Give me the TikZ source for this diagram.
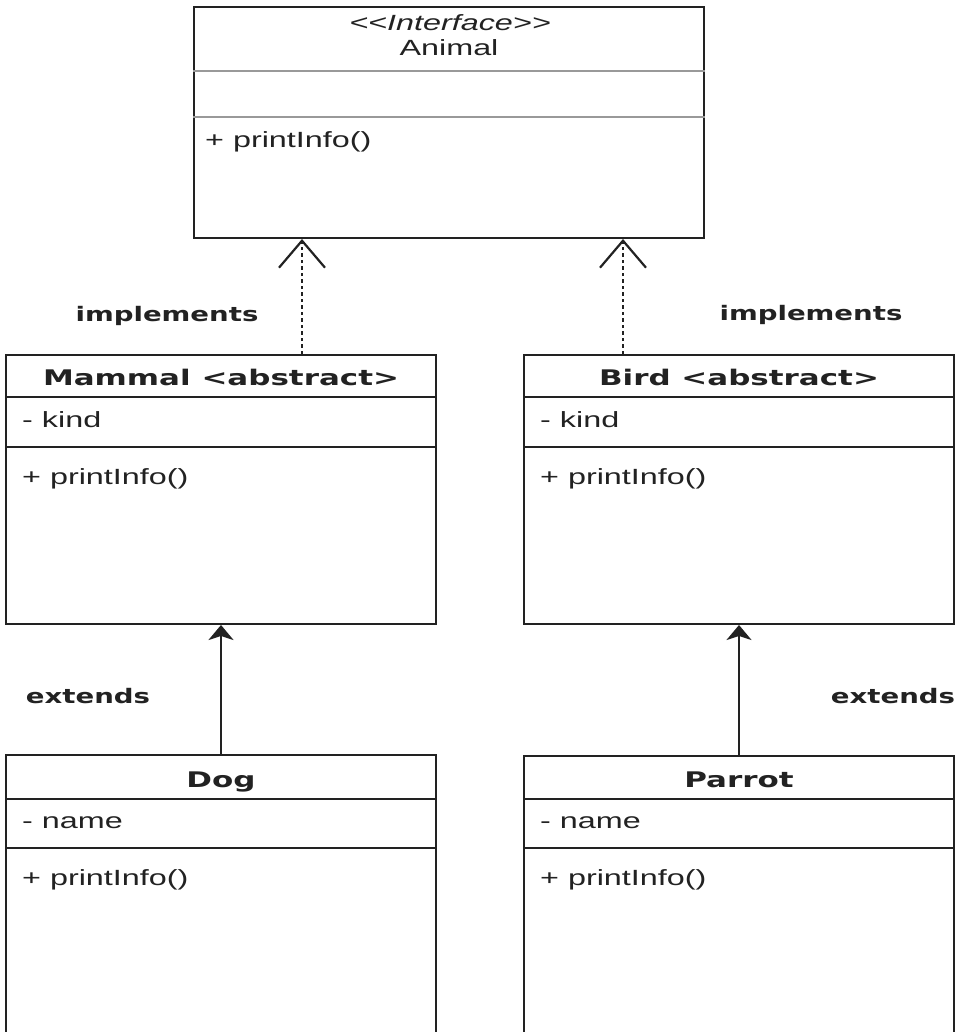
\documentclass[tikz,border=0pt]{standalone}
\usepackage{fontspec}
\usetikzlibrary{arrows.meta}
\newfontfamily\titlef[FakeStretch=1.44]{DejaVu Sans}
\newfontfamily\bodyf[FakeStretch=1.47]{Liberation Sans}
\newfontfamily\labelf[FakeStretch=1.38]{DejaVu Sans}
\definecolor{ink}{HTML}{222222}
\definecolor{sepgray}{HTML}{999999}
\tikzset{
  umlbox/.style={draw=ink, line width=2pt, rectangle, inner sep=0pt, fill=white},
  titletext/.style={anchor=base, inner sep=0pt, text=ink, font=\titlef\bfseries\fontsize{21.5}{24}\selectfont},
  bodytext/.style={anchor=base west, inner sep=0pt, text=ink, font=\bodyf\fontsize{22}{24}\selectfont},
  headtext/.style={anchor=base, inner sep=0pt, text=ink, font=\bodyf\fontsize{22}{24}\selectfont},
  reltext/.style={anchor=base, inner sep=0pt, text=ink, font=\labelf\bfseries\fontsize{20}{22}\selectfont},
  sepline/.style={draw=ink, line width=1.8pt},
  lightsep/.style={draw=sepgray, line width=1.5pt},
  realize/.style={draw=ink, line width=2.4pt, dash pattern=on 3.5pt off 3pt,
    -{Straight Barb[length=27pt,width=46pt,line width=2.2pt]}},
  inherit/.style={draw=ink, line width=2.2pt, -{Stealth[length=15pt,width=25pt,inset=4pt]}}
}
\begin{document}
\begin{tikzpicture}[x=1pt,y=-1pt]
\useasboundingbox (0,0) rectangle (958,1032);
\clip (0,0) rectangle (958,1032);

% Boxes
\node[umlbox, minimum width=510pt, minimum height=231pt] (animal) at (449,122.5) {};
\node[umlbox, minimum width=430pt, minimum height=269pt] (mammal) at (221,489.5) {};
\node[umlbox, minimum width=430pt, minimum height=269pt] (bird) at (739,489.5) {};
\node[umlbox, minimum width=430pt, minimum height=300pt] (dog) at (221,905) {};
\node[umlbox, minimum width=430pt, minimum height=300pt] (parrot) at (739,906) {};

% separators
\coordinate (a1) at (0,71);
\coordinate (a2) at (0,117);
\draw[lightsep] (animal.west |- a1) -- (animal.east |- a1);
\draw[lightsep] (animal.west |- a2) -- (animal.east |- a2);
\coordinate (m1) at (0,397);
\coordinate (m2) at (0,447);
\draw[sepline] (mammal.west |- m1) -- (mammal.east |- m1);
\draw[sepline] (mammal.west |- m2) -- (mammal.east |- m2);
\draw[sepline] (bird.west |- m1) -- (bird.east |- m1);
\draw[sepline] (bird.west |- m2) -- (bird.east |- m2);
\coordinate (d1) at (0,799);
\coordinate (d2) at (0,848);
\draw[sepline] (dog.west |- d1) -- (dog.east |- d1);
\draw[sepline] (dog.west |- d2) -- (dog.east |- d2);
\draw[sepline] (parrot.west |- d1) -- (parrot.east |- d1);
\draw[sepline] (parrot.west |- d2) -- (parrot.east |- d2);

% Animal texts
\node[headtext] (aster) at (450,31) {\itshape <<Interface>>};
\node[headtext] (aname) at (449,56) {Animal};
\node[bodytext] (aop) at (205,148) {+ printInfo()};

% Mammal
\node[titletext] (mname) at (221,385) {Mammal <abstract>};
\node[bodytext] (mattr) at (22,427) {- kind};
\node[bodytext] (mop) at (22,484) {+ printInfo()};

% Bird
\node[titletext] (bname) at (739,385) {Bird <abstract>};
\node[bodytext] (battr) at (540,427) {- kind};
\node[bodytext] (bop) at (540,484) {+ printInfo()};

% Dog
\node[titletext] (dname) at (221,787) {Dog};
\node[bodytext] (dattr) at (22,828) {- name};
\node[bodytext] (dop) at (22,885) {+ printInfo()};

% Parrot
\node[titletext] (pname) at (739,787) {Parrot};
\node[bodytext] (pattr) at (540,828) {- name};
\node[bodytext] (pop) at (540,885) {+ printInfo()};

% connectors
\coordinate (xl) at (302,0);
\coordinate (xr) at (623,0);
\draw[realize] (mammal.north -| xl) -- (animal.south -| xl);
\draw[realize] (bird.north -| xr) -- (animal.south -| xr);
\draw[inherit] (dog.north) -- (mammal.south);
\draw[inherit] (parrot.north) -- (bird.south);

% relation labels
\node[reltext] (impl1) at (167,321) {implements};
\node[reltext] (impl2) at (811,320) {implements};
\node[reltext] (ext1) at (88,703) {extends};
\node[reltext] (ext2) at (893,703) {extends};
\end{tikzpicture}
\end{document}
